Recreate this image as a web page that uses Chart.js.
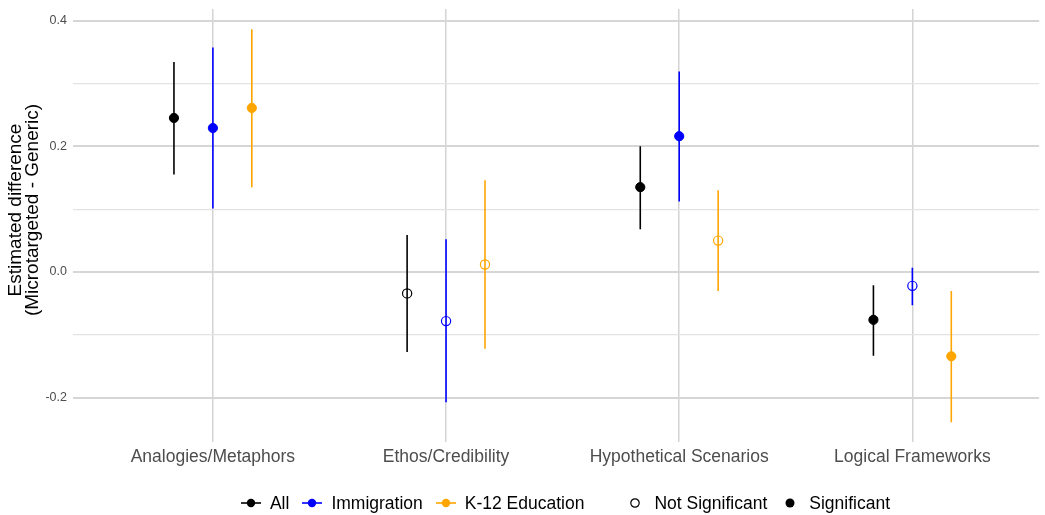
<!DOCTYPE html>
<html>
<head>
<meta charset="utf-8">
<script src="https://cdn.jsdelivr.net/npm/chart.js@4.4.1/dist/chart.umd.min.js"></script>
<style>
  html, body { margin: 0; padding: 0; background: #ffffff; }
  #wrap { position: relative; width: 1045px; height: 515px; overflow: hidden; }
  #chart { position: absolute; left: 0; top: 0; }
  #legend {
    position: absolute; left: 73px; top: 490px; width: 984px; height: 26px;
    display: flex; justify-content: center; align-items: center;
    font-family: "Liberation Sans", Arial, sans-serif; font-size: 17.5px; color: #000;
  }
  .group { display: flex; align-items: center; }
  .group + .group { margin-left: 40px; }
  .item { display: flex; align-items: center; }
  .item + .item { margin-left: 12px; }
  .item canvas { margin-right: 8px; }
</style>
</head>
<body>
<div id="wrap">
  <canvas id="chart" width="1045" height="515"></canvas>
  <div id="legend"></div>
</div>
<script>
// Strategy categories along the x axis
const categories = ['Analogies/Metaphors', 'Ethos/Credibility', 'Hypothetical Scenarios', 'Logical Frameworks'];

// Series (issue subsets)
const seriesNames = ['All', 'Immigration', 'K-12 Education'];
const seriesColors = ['#000000', '#0000FF', '#FFA500'];

// Estimates with 95% interval bounds, per category
const estAll  = [0.245, -0.034, 0.135, -0.076];
const lowAll  = [0.155, -0.127, 0.068, -0.133];
const highAll = [0.334,  0.059, 0.200, -0.021];
const sigAll  = [true, false, true, true];

const estImm  = [0.229, -0.078, 0.216, -0.022];
const lowImm  = [0.101, -0.207, 0.112, -0.053];
const highImm = [0.357,  0.052, 0.319,  0.007];
const sigImm  = [true, false, true, false];

const estK12  = [0.261,  0.012,  0.050, -0.134];
const lowK12  = [0.135, -0.122, -0.030, -0.239];
const highK12 = [0.386,  0.146,  0.130, -0.030];
const sigK12  = [true, false, false, true];

// Y tick values (labels drawn on the even ones)
const yTicks = [-0.2, -0.1, 0.0, 0.1, 0.2, 0.3, 0.4];

// Y axis title lines
const yTitle = ['Estimated difference', '(Microtargeted - Generic)'];

// Horizontal dodge of the three series inside each category
const DODGE = [-0.167, 0, 0.167];

const FONT = '"Liberation Sans", Arial, sans-serif';

const series = [
  { est: estAll, low: lowAll, high: highAll, sig: sigAll },
  { est: estImm, low: lowImm, high: highImm, sig: sigImm },
  { est: estK12, low: lowK12, high: highK12, sig: sigK12 }
];

const pointSets = series.map((s, k) => ({
  type: 'scatter',
  label: seriesNames[k],
  order: 0,
  data: s.est.map((v, i) => ({ x: i + 1 + DODGE[k], y: v })),
  pointStyle: 'circle',
  pointRadius: 4.6,
  pointHoverRadius: 4.6,
  pointBorderWidth: s.sig.map(b => b ? 1 : 1.2),
  pointBorderColor: seriesColors[k],
  pointBackgroundColor: s.sig.map(b => b ? seriesColors[k] : 'rgba(0,0,0,0)'),
  showLine: false
}));

const rangeSets = series.map((s, k) => {
  const pts = [];
  s.est.forEach((v, i) => {
    const x = i + 1 + DODGE[k];
    pts.push({ x: x, y: s.low[i] });
    pts.push({ x: x, y: s.high[i] });
    pts.push({ x: x, y: null });
  });
  return {
    type: 'scatter',
    label: seriesNames[k] + ' interval',
    order: 1,
    data: pts,
    showLine: true,
    spanGaps: false,
    borderColor: seriesColors[k],
    borderWidth: 1.6,
    pointRadius: 0,
    pointHoverRadius: 0
  };
});

const isMajor = v => Math.round(v * 10) % 2 === 0;

// Two-line rotated title to the left of the y axis
const yTitlePlugin = {
  id: 'yTitle',
  afterDraw(chart) {
    const ctx = chart.ctx;
    ctx.save();
    ctx.translate(0, 210);
    ctx.rotate(-Math.PI / 2);
    ctx.fillStyle = '#000000';
    ctx.font = '19px ' + FONT;
    ctx.textAlign = 'center';
    ctx.textBaseline = 'middle';
    yTitle.forEach((line, i) => ctx.fillText(line, 0, 16 + i * 17));
    ctx.restore();
  }
};

new Chart(document.getElementById('chart'), {
  type: 'scatter',
  data: { datasets: [...pointSets, ...rangeSets] },
  plugins: [yTitlePlugin],
  options: {
    responsive: false,
    animation: false,
    events: [],
    layout: { padding: { top: 9, right: 0, bottom: 0, left: 0 } },
    plugins: { legend: { display: false }, tooltip: { enabled: false } },
    scales: {
      x: {
        type: 'linear',
        min: 0.4,
        max: 4.544,
        afterBuildTicks: sc => { sc.ticks = categories.map((c, i) => ({ value: i + 1 })); },
        afterFit: sc => { sc.height = 73; sc.paddingLeft = 0; sc.paddingRight = 0; },
        border: { display: false },
        grid: { color: '#d3d3d3', lineWidth: 1.5, drawTicks: false },
        ticks: {
          autoSkip: false, maxRotation: 0, padding: 5,
          color: '#4d4d4d',
          font: { family: FONT, size: 17.5 },
          callback: v => categories[Math.round(v) - 1]
        }
      },
      y: {
        type: 'linear',
        min: -0.2703,
        max: 0.4183,
        afterBuildTicks: sc => { sc.ticks = yTicks.map(v => ({ value: v })); },
        afterFit: sc => { sc.width = 73; sc.paddingTop = 0; sc.paddingBottom = 0; },
        border: { display: false },
        grid: {
          drawTicks: false,
          color: c => isMajor(c.tick.value) ? '#d6d6d6' : '#e3e3e3',
          lineWidth: c => isMajor(c.tick.value) ? 2 : 1.2
        },
        ticks: {
          padding: 6,
          color: '#4d4d4d',
          font: { family: FONT, size: 12.5 },
          callback: v => isMajor(v) ? v.toFixed(1) : ''
        }
      }
    }
  }
});

// Legend: series keys (line + dot) and significance keys (open / filled dot)
function icon(draw) {
  const c = document.createElement('canvas');
  c.width = 22; c.height = 16;
  draw(c.getContext('2d'));
  return c;
}
function addItem(group, label, draw) {
  const it = document.createElement('div');
  it.className = 'item';
  it.appendChild(icon(draw));
  const t = document.createElement('span');
  t.textContent = label;
  it.appendChild(t);
  group.appendChild(it);
}
const legend = document.getElementById('legend');
const g1 = document.createElement('div'); g1.className = 'group';
const g2 = document.createElement('div'); g2.className = 'group';
seriesNames.forEach((name, k) => addItem(g1, name, ctx => {
  ctx.strokeStyle = seriesColors[k]; ctx.lineWidth = 1.6;
  ctx.beginPath(); ctx.moveTo(1, 8); ctx.lineTo(21, 8); ctx.stroke();
  ctx.fillStyle = seriesColors[k];
  ctx.beginPath(); ctx.arc(11, 8, 4.2, 0, Math.PI * 2); ctx.fill();
}));
addItem(g2, 'Not Significant', ctx => {
  ctx.strokeStyle = '#000'; ctx.lineWidth = 1.2;
  ctx.beginPath(); ctx.arc(11, 8, 4.2, 0, Math.PI * 2); ctx.stroke();
});
addItem(g2, 'Significant', ctx => {
  ctx.fillStyle = '#000';
  ctx.beginPath(); ctx.arc(11, 8, 4.5, 0, Math.PI * 2); ctx.fill();
});
legend.appendChild(g1);
legend.appendChild(g2);
</script>
</body>
</html>
